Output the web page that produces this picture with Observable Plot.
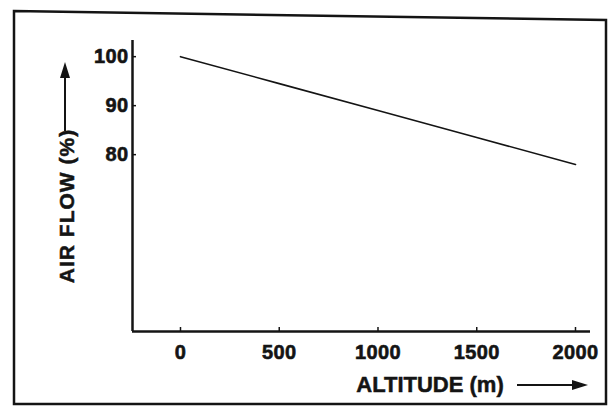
<!DOCTYPE html>
<html><head><meta charset="utf-8">
<script src="https://cdn.jsdelivr.net/npm/d3@7"></script>
<script src="https://cdn.jsdelivr.net/npm/@observablehq/plot@0.6"></script>
<style>
body{margin:0;background:#fff;}
#chart{position:relative;width:610px;height:408px;}
</style></head><body><div id="chart"></div>
<script>
const altitude = [0, 500, 1000, 1500, 2000];
const airFlow = [100, 94.5, 89, 83.5, 78];
const xTicks = [0, 500, 1000, 1500, 2000];
const yTicks = [80, 90, 100];
const xDomain = [-243, 2076];
const yDomain = [43.9, 103.3];
const xLabel = "ALTITUDE (m)";
const yLabel = "AIR FLOW (%)";
const data = altitude.map((a, i) => ({altitude: a, flow: airFlow[i]}));
const ink = "#141414";
const font = "'Liberation Sans', Arial, sans-serif";

const plot = Plot.plot({
  width: 610, height: 408,
  marginLeft: 132, marginRight: 20, marginTop: 40, marginBottom: 77,
  style: {fontFamily: font, background: "transparent", color: ink},
  x: {domain: xDomain},
  y: {domain: yDomain},
  marks: [
    Plot.ruleX([xDomain[0]], {stroke: ink, strokeWidth: 2.5}),
    Plot.ruleY([yDomain[0]], {stroke: ink, strokeWidth: 2.5}),
    Plot.axisX({ticks: xTicks, tickSize: -4, tickPadding: 17, fontSize: 20, fontWeight: "bold", label: null, tickFormat: d => String(d), strokeWidth: 1.5}),
    Plot.axisY({ticks: yTicks, tickSize: -4, tickPadding: 8, fontSize: 20, fontWeight: "bold", label: null, tickFormat: d => String(d), strokeWidth: 1.5}),
    Plot.line(data, {x: "altitude", y: "flow", stroke: ink, strokeWidth: 1.6})
  ]
});
document.getElementById("chart").appendChild(plot);

const svg = d3.select(plot);
svg.selectAll("g[aria-label$='tick label'] text")
  .style("stroke", ink).style("stroke-width", "0.6px").style("letter-spacing", "0.4px");
// axis titles
svg.append("text").text(yLabel)
  .attr("transform", "translate(66,206) rotate(-90)")
  .attr("text-anchor", "middle").attr("dy", "0.36em")
  .attr("font-family", font).attr("font-size", 21).attr("font-weight", "bold")
  .attr("letter-spacing", "1px").attr("fill", ink)
  .attr("stroke", ink).attr("stroke-width", 0.5);
svg.append("text").text(xLabel)
  .attr("x", 430).attr("y", 384)
  .attr("text-anchor", "middle").attr("dy", "0.36em")
  .attr("font-family", font).attr("font-size", 22).attr("font-weight", "bold")
  .attr("fill", ink).attr("stroke", ink).attr("stroke-width", 0.5);
// decorations: outer frame and label arrows
svg.append("path").attr("d", "M14,11 L606,20 L606,404 L14,404 Z").attr("fill", "none").attr("stroke", ink).attr("stroke-width", 2.5);
svg.append("line").attr("x1", 65).attr("y1", 131).attr("x2", 65).attr("y2", 74).attr("stroke", ink).attr("stroke-width", 2);
svg.append("path").attr("d", "M65,62 L60,78 L70,78 Z").attr("fill", ink);
svg.append("line").attr("x1", 517).attr("y1", 385).attr("x2", 576).attr("y2", 385).attr("stroke", ink).attr("stroke-width", 2);
svg.append("path").attr("d", "M588,385 L572,380 L572,390 Z").attr("fill", ink);
</script></body></html>
